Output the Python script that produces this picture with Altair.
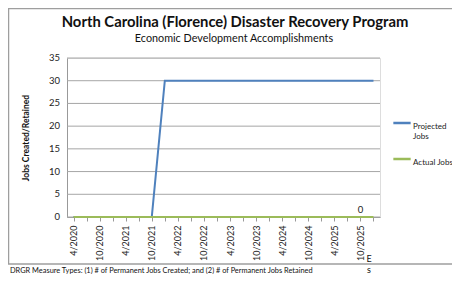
import altair as alt
import pandas as pd

quarters = ["4/2020", "7/2020", "10/2020", "1/2021", "4/2021", "7/2021", "10/2021",
            "1/2022", "4/2022", "7/2022", "10/2022", "1/2023", "4/2023", "7/2023",
            "10/2023", "1/2024", "4/2024", "7/2024", "10/2024", "1/2025", "4/2025",
            "7/2025", "10/2025", "1/2026"]
projected = [0, 0, 0, 0, 0, 0, 0] + [30] * 17
actual = [0] * 24
y_ticks = [0, 5, 10, 15, 20, 25, 30, 35]
series_names = ["Projected Jobs", "Actual Jobs"]
colors = ["#4F81BD", "#9BBB59"]
title_text = "North Carolina (Florence) Disaster Recovery Program"
subtitle_text = "Economic Development Accomplishments"
footer_text = "DRGR Measure Types: (1) # of Permanent Jobs Created; and (2) # of Permanent Jobs Retained"

rows = []
for i, q in enumerate(quarters):
    rows.append({"q": q, "series": series_names[0], "v": projected[i]})
    rows.append({"q": q, "series": series_names[1], "v": actual[i]})
df = pd.DataFrame(rows)

W, H = 313, 159
FONT = "Lato"

xscale = alt.Scale(type="point", padding=0.5)
x_axis = alt.Axis(title=None, labelAngle=-90, labelFontSize=9,
                  labelFont=FONT, labelColor="#222",
                  labelExpr="indexof(" + str(quarters) + ", datum.value) % 2 == 0 ? datum.value : ''",
                  labelOverlap=False, labelPadding=4,
                  domainColor="#999", tickColor="#999", tickSize=4,
                  grid=False)
y_axis = alt.Axis(title="Jobs Created/Retained", labels=False, grid=False, ticks=False,
                  titleFont=FONT, titleFontSize=8.5, titleFontWeight="bold",
                  titleColor="#111", titleX=-42, titleY=H / 2, titleAngle=270,
                  titleAlign="center", titleBaseline="middle",
                  domain=True, domainColor="#999")
yscale = alt.Scale(domain=[0, 35], nice=False)

tick_df = pd.DataFrame({"v": y_ticks, "t": [str(v) for v in y_ticks]})
grid = alt.Chart(tick_df).mark_rule(color="#A6A6A6", strokeWidth=1).encode(
    y=alt.Y("v:Q", scale=yscale, axis=y_axis),
    x=alt.value(0), x2=alt.value(W),
)
ylabels = alt.Chart(tick_df).mark_text(
    align="right", baseline="middle", fontSize=9.5, font=FONT, color="#222"
).encode(y=alt.Y("v:Q", scale=yscale, axis=y_axis), x=alt.value(-7), text="t:N")

lines = alt.Chart(df).mark_line(strokeWidth=2).encode(
    x=alt.X("q:O", sort=quarters, scale=xscale, axis=x_axis),
    y=alt.Y("v:Q", scale=yscale, axis=y_axis),
    color=alt.Color("series:N", sort=series_names,
                    scale=alt.Scale(domain=series_names, range=colors),
                    legend=alt.Legend(title=None, orient="none", legendX=325, legendY=55,
                                      symbolType="stroke", symbolSize=300, symbolStrokeWidth=2.5,
                                      labelFont=FONT, labelFontSize=8, labelColor="#222",
                                      labelBaseline="top", labelOffset=1, labelLimit=60,
                                      labelExpr="datum.label == 'Projected Jobs' ? ['Projected', 'Jobs'] : datum.label",
                                      rowPadding=8)),
)

last_df = pd.DataFrame({"q": [quarters[22]], "v": [actual[22]], "t": [str(actual[22])]})
label = alt.Chart(last_df).mark_text(dy=-7, fontSize=9.5, font=FONT, color="#222").encode(
    x=alt.X("q:O", sort=quarters, scale=xscale, axis=x_axis),
    y=alt.Y("v:Q", scale=yscale, axis=y_axis),
    text="t:N",
)

def txt(s, x, y, size, weight="normal", align="center"):
    return alt.Chart(pd.DataFrame({"t": [s]})).mark_text(
        align=align, baseline="alphabetic", fontSize=size, font=FONT,
        fontWeight=weight, color="#111"
    ).encode(x=alt.value(x), y=alt.value(y), text="t:N")

title = txt(title_text, 168, -31, 14.8, "bold")
subtitle = txt(subtitle_text, 167, -16, 10.8)
footer = txt(footer_text, -57, 215, 7.4, align="left")
e_txt = txt("E", 302, 204, 9)
s_txt = txt("s", 302, 215, 9)

border = alt.Chart(pd.DataFrame({"a": [0]})).mark_rect(
    fill=None, stroke="#9E9E9E", strokeWidth=1.5
).encode(x=alt.value(-58.5), x2=alt.value(400), y=alt.value(-49.5), y2=alt.value(206))

chart = alt.layer(grid, ylabels, lines, label, title, subtitle, footer, e_txt, s_txt, border).properties(
    width=W, height=H,
    autosize=alt.AutoSizeParams(type="none"),
    padding={"left": 59, "top": 50, "right": 72, "bottom": 57},
).configure_view(stroke=None).configure(background="white")

chart.save("out.html", embed_options={"renderer": "svg", "actions": False})
